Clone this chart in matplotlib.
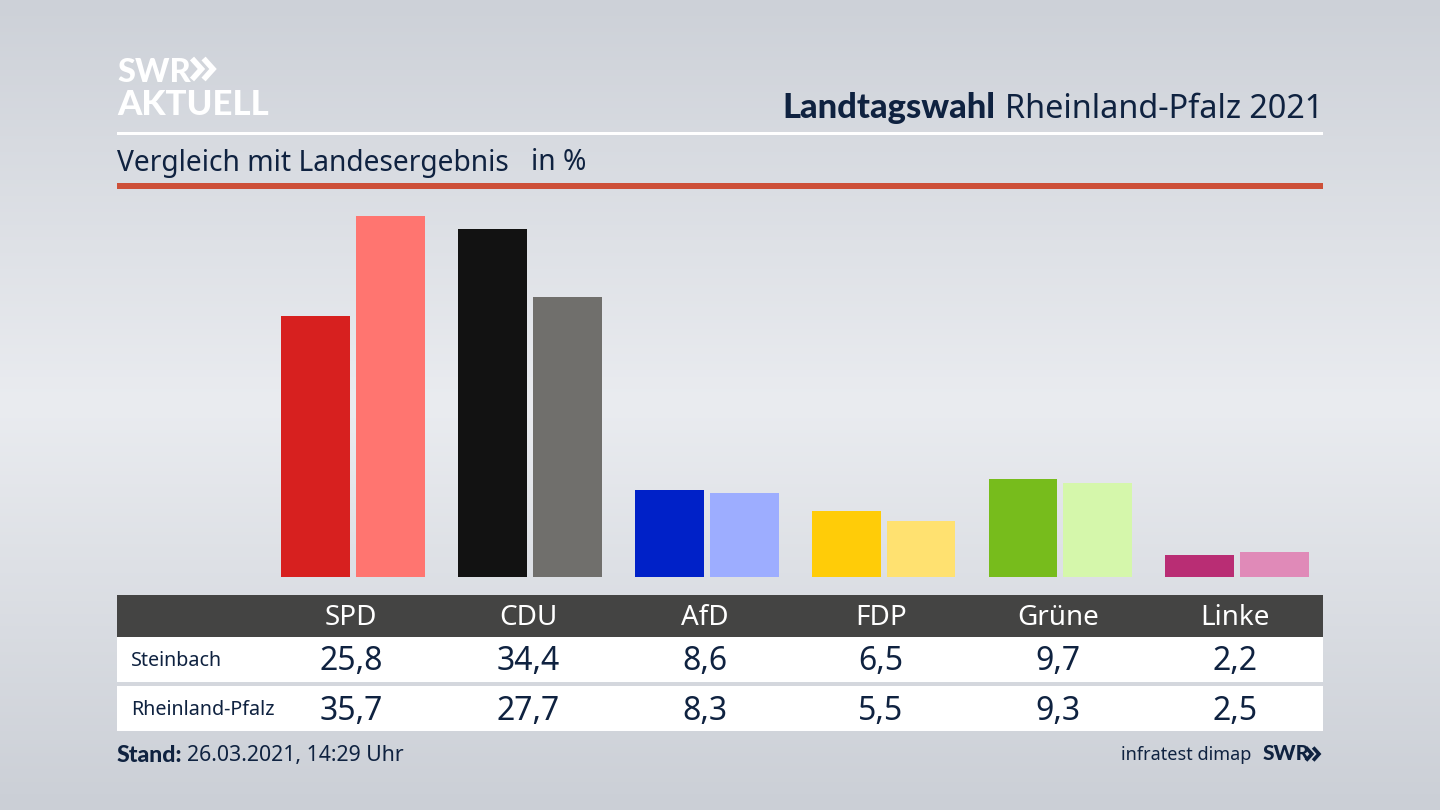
import numpy as np
from matplotlib import pyplot as plt
from matplotlib.colors import LinearSegmentedColormap
from matplotlib.patches import Rectangle

parties = ['SPD', 'CDU', 'AfD', 'FDP', 'Grüne', 'Linke']
steinbach = [25.8, 34.4, 8.6, 6.5, 9.7, 2.2]
land = [35.7, 27.7, 8.3, 5.5, 9.3, 2.5]
colors_steinbach = ['#d7201f', '#121212', '#0021c8', '#ffcc08', '#77bc1c', '#b92d74']
colors_land = ['#ff7570', '#706f6c', '#9dadff', '#ffe170', '#d5f7ab', '#e08ab8']

plt.rcParams['font.family'] = ['Noto Sans', 'DejaVu Sans']
NAVY = '#0f2240'
BOLD = ['Lato', 'DejaVu Sans']

fig = plt.figure(figsize=(14.4, 8.1), dpi=100)

# hintergrund + alles was in pixeln liegt
bg = fig.add_axes([0, 0, 1, 1])
bg.set_xlim(0, 1440)
bg.set_ylim(810, 0)
bg.axis('off')
cmap = LinearSegmentedColormap.from_list('bg', [(0, '#cdd1d8'), (0.5, '#eaecf0'), (1, '#cbcfd6')])
bg.imshow(np.linspace(0, 1, 256).reshape(-1, 1), cmap=cmap, extent=(0, 1440, 810, 0), aspect='auto', zorder=0)


def chevrons(x, y, h, color, lw):
    # die beiden pfeile vom logo
    for dx in (0, h * 0.55):
        bg.plot([x + dx, x + dx + h * 0.45, x + dx], [y - h / 2, y, y + h / 2], color=color, lw=lw,
                solid_joinstyle='miter', solid_capstyle='butt')


# linien oben
bg.add_patch(Rectangle((117, 132), 1206, 3, color='white', lw=0))
bg.add_patch(Rectangle((117, 183), 1206, 6, color='#cd5038', lw=0))

# logo
bg.text(117, 72, 'SWR', color='white', fontsize=23.5, fontweight='black', family=BOLD, va='center', ha='left')
chevrons(192, 69, 21, 'white', 4)
bg.text(117, 105, 'AKTUELL', color='white', fontsize=25, fontweight='black', family=BOLD, va='center', ha='left')

# titel
t = bg.text(1323, 109, 'Rheinland-Pfalz 2021', color=NAVY, fontsize=23.3, va='center', ha='right')
fig.canvas.draw()
box = t.get_window_extent()
bg.text(box.x0 - 9, 108, 'Landtagswahl', color=NAVY, fontsize=24.8, fontweight='black', family=BOLD, va='center', ha='right')
bg.text(117, 163, 'Vergleich mit Landesergebnis', color=NAVY, fontsize=20.3, va='center', ha='left')
bg.text(531, 163, 'in %', color=NAVY, fontsize=20.3, va='center', ha='left')

# tabelle
centers = [351, 528, 705, 881, 1058, 1235]
bg.add_patch(Rectangle((117, 595), 1206, 42, color='#444443', lw=0))
bg.add_patch(Rectangle((117, 637), 1206, 45, color='white', lw=0))
bg.add_patch(Rectangle((117, 686), 1206, 45, color='white', lw=0))
bg.text(131, 661, 'Steinbach', color=NAVY, fontsize=14.2, va='center', ha='left')
bg.text(131, 710, 'Rheinland-Pfalz', color=NAVY, fontsize=14.2, va='center', ha='left')
for c, name, a, b in zip(centers, parties, steinbach, land):
    bg.text(c, 618, name, color='white', fontsize=20, va='center', ha='center')
    bg.text(c, 662, f'{a:.1f}'.replace('.', ','), color=NAVY, fontsize=23, va='center', ha='center')
    bg.text(c, 711, f'{b:.1f}'.replace('.', ','), color=NAVY, fontsize=23, va='center', ha='center')

# fusszeile
bg.text(117, 755, 'Stand:', color=NAVY, fontsize=16.6, fontweight='black', family=BOLD, va='center', ha='left')
bg.text(187, 756, '26.03.2021, 14:29 Uhr', color=NAVY, fontsize=15.3, va='center', ha='left')
bg.text(1251, 755, 'infratest dimap', color=NAVY, fontsize=13, va='center', ha='right')
bg.text(1263, 754, 'SWR', color=NAVY, fontsize=15, fontweight='black', family=BOLD, va='center', ha='left')
chevrons(1306, 754, 13, NAVY, 2.6)

# balken, achse: 176.8 px je partei, 10.12 px je prozent
ax = fig.add_axes([117 / 1440, (810 - 577) / 810, 1206 / 1440, (577 - 190) / 810])
ax.patch.set_alpha(0)
ax.axis('off')
x = np.arange(len(parties))
ax.bar(x - 0.2115, steinbach, width=0.39, color=colors_steinbach)
ax.bar(x + 0.2115, land, width=0.39, color=colors_land)
ax.set_xlim((117 - 353.2) / 176.8, (1323 - 353.2) / 176.8)
ax.set_ylim(0, (577 - 190) / 10.12)

fig.savefig('out.png', dpi=100)
